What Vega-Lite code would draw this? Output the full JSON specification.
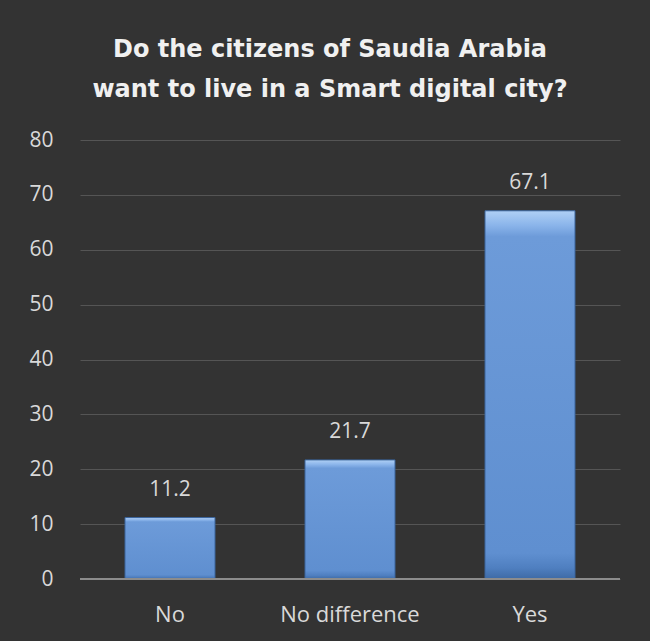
{
  "$schema": "https://vega.github.io/schema/vega-lite/v6.json",
  "autosize": "none",
  "width": 540,
  "height": 439,
  "padding": {"left": 80, "top": 140, "right": 30, "bottom": 62},
  "background": "#333333",
  "title": {
    "text": ["Do the citizens of Saudia Arabia", "want to live in a Smart digital city?"],
    "font": "DejaVu Sans",
    "fontSize": 24,
    "fontWeight": "bold",
    "color": "#f0f0f0",
    "lineHeight": 40,
    "anchor": "middle",
    "dx": -20,
    "offset": 27
  },
  "data": {
    "values": [
      {"answer": "No", "pct": 11.2},
      {"answer": "No difference", "pct": 21.7},
      {"answer": "Yes", "pct": 67.1}
    ]
  },
  "encoding": {
    "x": {
      "field": "answer",
      "type": "nominal",
      "sort": null,
      "scale": {"paddingInner": 0.5, "paddingOuter": 0.25},
      "axis": {
        "title": null,
        "labelAngle": 0,
        "labelFont": "Open Sans",
        "labelFontSize": 22,
        "labelColor": "#d9d9d9",
        "labelPadding": 25,
        "ticks": false,
        "domain": false
      }
    },
    "y": {
      "field": "pct",
      "type": "quantitative",
      "scale": {"domain": [0, 80]},
      "axis": {
        "title": null,
        "values": [0, 10, 20, 30, 40, 50, 60, 70, 80],
        "labelFont": "Open Sans",
        "labelFontSize": 21,
        "labelColor": "#d9d9d9",
        "labelPadding": 27,
        "ticks": false,
        "domain": false,
        "grid": true,
        "gridColor": "#555555",
        "gridWidth": 1
      }
    }
  },
  "layer": [
    {
      "mark": {
        "type": "bar",
        "stroke": "#3a659c",
        "strokeWidth": 1,
        "color": {
          "gradient": "linear",
          "x1": 0, "y1": 0, "x2": 0, "y2": 1,
          "stops": [
            {"offset": 0, "color": "#b0d0f5"},
            {"offset": 0.04, "color": "#8ab4ea"},
            {"offset": 0.07, "color": "#6d9bd9"},
            {"offset": 0.93, "color": "#5f8fd0"},
            {"offset": 0.97, "color": "#4f7fc0"},
            {"offset": 1, "color": "#3d6aa5"}
          ]
        }
      }
    },
    {
      "mark": {
        "type": "text",
        "dy": -28,
        "font": "Open Sans",
        "fontSize": 21,
        "color": "#d9d9d9"
      },
      "encoding": {
        "text": {"field": "pct", "type": "quantitative", "format": ".1f"}
      }
    },
    {
      "mark": {"type": "rule", "color": "#8c8c8c", "strokeWidth": 2},
      "encoding": {"y": {"datum": 0}, "x": null}
    }
  ],
  "config": {
    "view": {"stroke": null},
    "axis": {"labelOverlap": false}
  }
}
